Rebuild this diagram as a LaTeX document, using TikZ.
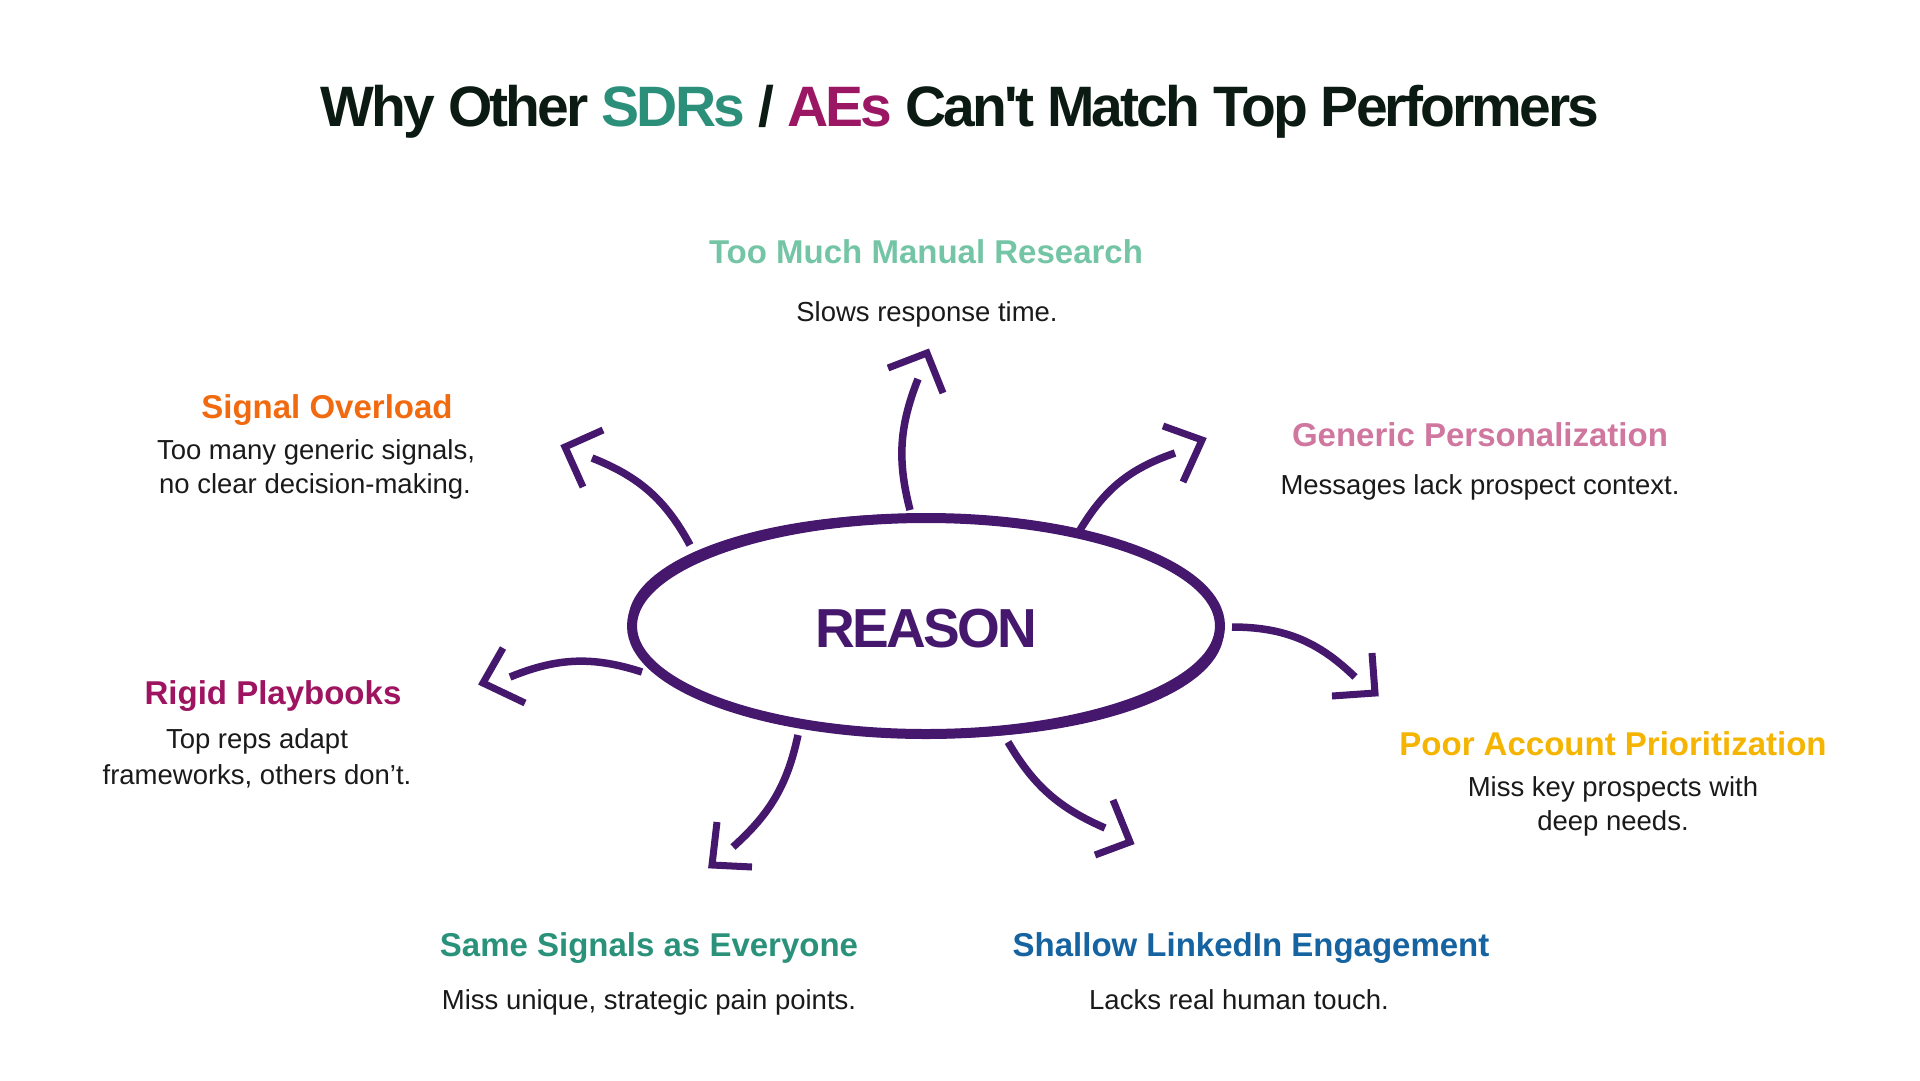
\documentclass[tikz,border=0pt]{standalone}
\usepackage{fontspec}
\usetikzlibrary{shapes.geometric}
\setmainfont{Liberation Sans}
\newfontfamily\tightfont{Liberation Sans}[LetterSpace=-5]
\definecolor{ink}{HTML}{0B1A12}
\definecolor{sdr}{HTML}{2B8F7A}
\definecolor{ae}{HTML}{9B1763}
\definecolor{brush}{HTML}{45186E}
\definecolor{cResearch}{HTML}{74C5A5}
\definecolor{cOverload}{HTML}{F26A0F}
\definecolor{cPerson}{HTML}{D0779F}
\definecolor{cRigid}{HTML}{9E1460}
\definecolor{cPoor}{HTML}{F4B400}
\definecolor{cSame}{HTML}{2A927A}
\definecolor{cShallow}{HTML}{1563A0}
\definecolor{body}{HTML}{1A1A1A}
\begin{document}
\begin{tikzpicture}[x=1pt,y=-1pt,
  heading/.style={anchor=base,inner sep=0pt,font=\fontsize{33}{40}\selectfont\bfseries},
  bodytext/.style={anchor=base,inner sep=0pt,text=body,font=\fontsize{27.5}{34}\selectfont},
  shaft/.style={draw=brush,line width=7.5pt,line cap=butt},
  head/.style={draw=brush,line width=7pt,line join=miter,line cap=butt}]
\useasboundingbox[fill=white] (0,0) rectangle (1920,1080);
% title
\node[anchor=base,inner sep=0pt,font=\tightfont\fontsize{57}{60}\selectfont\bfseries,text=ink] (title) at (960,126)
  {Why Other \textcolor{sdr}{SDRs} / \textcolor{ae}{AEs} Can't Match Top Performers};
% central ellipse
\node[draw=brush,line width=10pt,ellipse,minimum width=588pt,minimum height=216pt,inner sep=0pt] (reason) at (926,626) {};
\draw[brush,line width=4pt,rotate around={-1:(926,626)}] (926,626) ellipse (296pt and 110pt);
\node[anchor=base,inner sep=0pt,text=brush,font=\tightfont\fontsize{55}{60}\selectfont\bfseries] (reasontxt) at (926,647) {REASON};
% labels
\node[heading,text=cResearch] (h1) at (926,263) {Too Much Manual Research};
\node[bodytext] (b1) at (927,321) {Slows response time.};
\node[heading,text=cOverload] (h2) at (327,418) {Signal Overload};
\node[bodytext] (b2a) at (316,459) {Too many generic signals,};
\node[bodytext] (b2b) at (315,493) {no clear decision-making.};
\node[heading,text=cPerson] (h3) at (1480,446) {Generic Personalization};
\node[bodytext] (b3) at (1480,494) {Messages lack prospect context.};
\node[heading,text=cRigid] (h4) at (273,704) {Rigid Playbooks};
\node[bodytext] (b4a) at (257,748) {Top reps adapt};
\node[bodytext] (b4b) at (257,784) {frameworks, others don’t.};
\node[heading,text=cPoor] (h5) at (1613,755) {Poor Account Prioritization};
\node[bodytext] (b5a) at (1613,796) {Miss key prospects with};
\node[bodytext] (b5b) at (1613,830) {deep needs.};
\node[heading,text=cSame] (h6) at (649,956) {Same Signals as Everyone};
\node[bodytext] (b6) at (649,1009) {Miss unique, strategic pain points.};
\node[heading,text=cShallow] (h7) at (1251,956) {Shallow LinkedIn Engagement};
\node[bodytext] (b7) at (1239,1009) {Lacks real human touch.};
% arrow coordinates
\coordinate (a1s) at (910,510); \coordinate (a1e) at (918,379);
\coordinate (a2s) at (1080,530); \coordinate (a2e) at (1175,453);
\coordinate (a3s) at (690,545); \coordinate (a3e) at (592,458);
\coordinate (a4s) at (642,672); \coordinate (a4e) at (510,677);
\coordinate (a5s) at (798,735); \coordinate (a5e) at (733,847);
\coordinate (a6s) at (1008,742); \coordinate (a6e) at (1105,828);
\coordinate (a7s) at (1232,627); \coordinate (a7e) at (1355,677);
% shafts
\draw[shaft] (a1s) to[bend left=18] (a1e);
\draw[shaft] (a2s) to[bend left=20] (a2e);
\draw[shaft] (a3s) to[bend right=20] (a3e);
\draw[shaft] (a4s) to[bend right=20] (a4e);
\draw[shaft] (a5s) to[bend left=18] (a5e);
\draw[shaft] (a6s) to[bend right=18] (a6e);
\draw[shaft] (a7s) to[bend left=22] (a7e);
% heads
\draw[head] (888,368) -- (927,353) -- (943,393);
\draw[head] (1163,426) -- (1202,440) -- (1183,482);
\draw[head] (603,430) -- (565,447) -- (583,487);
\draw[head] (503,648) -- (483,683) -- (525,703);
\draw[head] (717,822) -- (712,865) -- (752,867);
\draw[head] (1113,800) -- (1130,842) -- (1095,855);
\draw[head] (1372,653) -- (1375,693) -- (1332,696);
\end{tikzpicture}
\end{document}
